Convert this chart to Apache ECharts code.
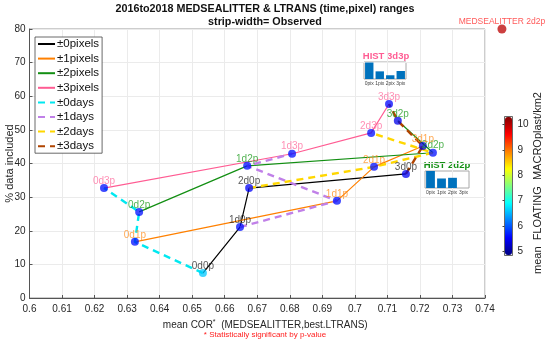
<!DOCTYPE html>
<html><head><meta charset="utf-8">
<script src="https://cdn.jsdelivr.net/npm/echarts@6/dist/echarts.min.js"></script>
<style>html,body{margin:0;padding:0;background:#fff}#c{width:550px;height:342px}</style>
</head><body><div id="c"></div>
<script>
// ---- data ----
const pointNames = ['0d0p','0d1p','0d2p','0d3p','1d0p','1d1p','1d2p','1d3p','2d0p','2d1p','2d2p','2d3p','3d0p','3d1p','3d2p','3d3p'];
const corValues  = [0.6533,0.6324,0.6337,0.6229, 0.6647,0.6945,0.6669,0.6807, 0.6675,0.7059,0.7240,0.7050, 0.7157,0.7209,0.7132,0.7105];
const pctValues  = [7.4,16.7,25.6,32.7, 21.1,28.9,39.3,42.9, 32.7,39.0,43.2,49.1, 36.9,45.2,52.7,57.7];
const floatValues = [6.6,5.6,5.6,5.6, 5.6,5.6,5.6,5.6, 5.5,5.6,5.6,5.6, 5.45,5.3,5.4,5.55];
const pixelSeriesNames = ['±0pixels','±1pixels','±2pixels','±3pixels'];
const daySeriesNames = ['±0days','±1days','±2days','±3days'];
const medName = 'MEDSEALITTER 2d2p';
const medCor = 0.7452, medPct = 80.0, medFloat = 10.0;
const xMin = 0.6, xMax = 0.74, xStep = 0.01;
const yMin = 0, yMax = 80, yStep = 10;
const colorbarTicks = [5,6,7,8,9,10];
const colorbarMin = 4.84, colorbarMax = 10.32;
const histCategories = ['0pix','1pix','2pix','3pix'];
const hist3d3p = [0.97,0.45,0.22,0.47];
const hist2d2p = [1.0,0.56,0.6,0];

// ---- styles ----
const FONT = 'Liberation Sans, Arial, Helvetica, sans-serif';
const pixelColors = ['#000000','#ff8000','#138f13','#ff5c93'];
const labelColors = ['#1a1a1a','#ff8c1a','#1a9a1a','#ff6a9c'];
const dayColors = ['#00e8f0','#c080e8','#ffd700','#b04400'];
const jet = ['#000080','#0000ff','#0080ff','#00ffff','#80ff80','#ffff00','#ff8000','#ff0000','#800000'];

const idx = (d,p) => d*4+p;
const series = [];
for (let p=0;p<4;p++){
  const data=[]; for(let d=0;d<4;d++){const i=idx(d,p); data.push([corValues[i],pctValues[i]]);}
  series.push({type:'line',name:pixelSeriesNames[p],data,symbol:'none',showSymbol:false,
    lineStyle:{color:pixelColors[p],width:1.2},itemStyle:{color:pixelColors[p]},z:2,silent:true});
}
for (let d=0;d<4;d++){
  const data=[]; for(let p=0;p<4;p++){const i=idx(d,p); data.push([corValues[i],pctValues[i]]);}
  series.push({type:'line',name:daySeriesNames[d],data,symbol:'none',showSymbol:false,
    lineStyle:{color:dayColors[d],width:2.4,type:[7,5]},itemStyle:{color:dayColors[d]},z:2,silent:true});
}
series.push({type:'scatter',name:'pts',data:pointNames.map((n,i)=>({name:n,value:[corValues[i],pctValues[i],floatValues[i]],
    label:{color:labelColors[i%4]}})),
  symbolSize:8,itemStyle:{opacity:0.75},z:4,
  label:{show:true,position:'inside',offset:[0,-7],formatter:'{b}',fontSize:10,fontFamily:FONT}});
series.push({type:'scatter',name:'med',clip:false,data:[{name:medName,value:[medCor,medPct,medFloat]}],
  symbolSize:9,itemStyle:{opacity:0.75},z:4,
  label:{show:true,position:'inside',offset:[0,-7],formatter:'{b}',fontSize:8.5,fontFamily:FONT,color:'#ff2020'}});
series.push({type:'bar',xAxisIndex:1,yAxisIndex:1,data:hist3d3p,itemStyle:{color:'#0072bd'},barCategoryGap:'20%',silent:true});
series.push({type:'bar',xAxisIndex:2,yAxisIndex:2,data:hist2d2p,itemStyle:{color:'#0072bd'},barCategoryGap:'20%',silent:true});

const axisTxt = {color:'#262626',fontSize:10,fontFamily:FONT};
const option = {
  animation:false,
  backgroundColor:'#ffffff',
  grid:[
    {left:29.5,top:29,width:455.5,height:269,show:true,borderColor:'#9a9a9a',borderWidth:1,backgroundColor:'transparent',outerBoundsMode:'none',containLabel:false},
    {left:364,top:62,width:42,height:17,show:true,borderColor:'#a8a8a8',borderWidth:1,outerBoundsMode:'none',containLabel:false},
    {left:425,top:171,width:44,height:17,show:true,borderColor:'#a8a8a8',borderWidth:1,outerBoundsMode:'none',containLabel:false},
    {left:504.5,top:116.5,width:8,height:139,show:true,borderColor:'#444',borderWidth:0.8,backgroundColor:'transparent',z:10,outerBoundsMode:'none',containLabel:false}
  ],
  xAxis:[
    {type:'value',gridIndex:0,min:xMin,max:xMax,interval:xStep,
      axisLine:{show:true,lineStyle:{color:'#555'}},axisTick:{show:true,inside:true,length:3,lineStyle:{color:'#555'}},
      splitLine:{show:true,lineStyle:{color:'#ebebeb'}},axisLabel:Object.assign({margin:6},axisTxt),
      name:'{a|mean COR}{s|*}{a|  (MEDSEALITTER,best.LTRANS)}',nameLocation:'middle',nameGap:16,
      nameTextStyle:{padding:[0,0,0,16],rich:{a:{fontSize:10,color:'#262626',fontFamily:FONT},s:{fontSize:7,color:'#262626',fontFamily:FONT,verticalAlign:'top',padding:[0,0,6,0]}}}},
    {type:'category',gridIndex:1,data:histCategories,axisLine:{show:false},axisTick:{show:false},
      axisLabel:{fontSize:5,margin:2,color:'#444',interval:0,fontFamily:FONT}},
    {type:'category',gridIndex:2,data:histCategories,axisLine:{show:false},axisTick:{show:false},
      axisLabel:{fontSize:5,margin:2,color:'#444',interval:0,fontFamily:FONT}},
    {type:'value',gridIndex:3,show:false}
  ],
  yAxis:[
    {type:'value',gridIndex:0,min:yMin,max:yMax,interval:yStep,
      axisLine:{show:true,lineStyle:{color:'#555'}},axisTick:{show:true,inside:true,length:3,lineStyle:{color:'#555'}},
      splitLine:{show:true,lineStyle:{color:'#ebebeb'}},axisLabel:Object.assign({margin:4},axisTxt),
      name:'% data included',nameLocation:'middle',nameGap:14,nameMoveOverlap:false,nameTextStyle:{fontSize:11,color:'#262626',fontFamily:FONT}},
    {type:'value',gridIndex:1,min:0,max:1,show:false},
    {type:'value',gridIndex:2,min:0,max:1,show:false},
    {type:'value',gridIndex:3,min:colorbarMin,max:colorbarMax,position:'right',
      axisLine:{show:false},axisTick:{show:true,inside:true,length:2,customValues:colorbarTicks,lineStyle:{color:'#444'}},
      splitLine:{show:false},axisLabel:Object.assign({margin:5,customValues:colorbarTicks},axisTxt)}
  ],
  visualMap:{type:'continuous',min:colorbarMin,max:colorbarMax,dimension:2,seriesIndex:[8,9],
    show:true,left:505,top:117,itemWidth:7,itemHeight:138,padding:0,calculable:false,hoverLink:false,
    text:null,inRange:{color:jet}},
  legend:{data:pixelSeriesNames.concat(daySeriesNames),orient:'vertical',left:35,top:37,
    itemWidth:17,itemHeight:10,itemGap:2.6,padding:[1,3,1,2],backgroundColor:'#fff',borderColor:'#444',borderWidth:0.8,
    itemStyle:{opacity:0,borderWidth:0},
    textStyle:{fontSize:11.5,color:'#111',fontFamily:FONT,padding:[0,0,0,-3]},selectedMode:false},
  graphic:[
    {type:'text',x:265,y:9,style:{text:'2016to2018 MEDSEALITTER & LTRANS (time,pixel) ranges',textAlign:'center',textVerticalAlign:'middle',font:'bold 10.75px '+FONT,fill:'#111'}},
    {type:'text',x:265,y:22,style:{text:'strip-width= Observed',textAlign:'center',textVerticalAlign:'middle',font:'bold 10.75px '+FONT,fill:'#111'}},
    {type:'text',x:265,y:335,style:{text:'* Statistically significant by p-value',textAlign:'center',textVerticalAlign:'middle',font:'8px '+FONT,fill:'#ff2020'}},
    {type:'text',x:386,y:56,style:{text:'HIST 3d3p',textAlign:'center',textVerticalAlign:'middle',font:'bold 9.5px '+FONT,fill:'#ff5c93'}},
    {type:'text',x:447,y:165,style:{text:'HIST 2d2p',textAlign:'center',textVerticalAlign:'middle',font:'bold 9.5px '+FONT,fill:'#138f13'}},
    {type:'text',x:538,y:183,rotation:Math.PI/2,style:{text:'mean  FLOATING  MACROplast/km2',textAlign:'center',textVerticalAlign:'middle',font:'11px '+FONT,fill:'#222'}}
  ],
  series
};
const chart = echarts.init(document.getElementById('c'),null,{renderer:'canvas'});
chart.setOption(option);
</script></body></html>
